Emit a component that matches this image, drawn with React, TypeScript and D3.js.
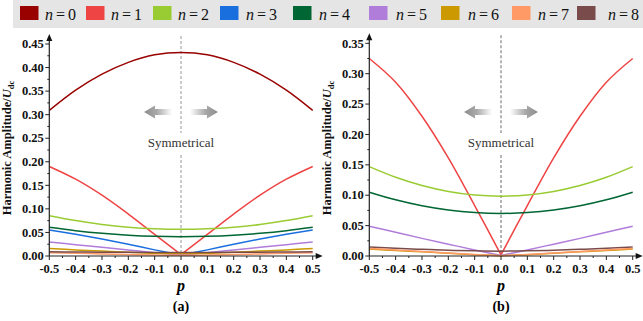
import * as d3 from "d3";

// p values shared by every series
const P = [-0.5, -0.4, -0.3, -0.2, -0.1, 0, 0.1, 0.2, 0.3, 0.4, 0.5];

const COLORS = ["#990000", "#ef4444", "#99cc33", "#1a6fdf", "#006633", "#b07ddb", "#cc9900", "#ff9966", "#7a4b4b"];
const LEGEND_LABELS = ["0", "1", "2", "3", "4", "5", "6", "7", "8"];

// panel (a) harmonic amplitudes, n = 0..8
const A0 = [0.309, 0.352, 0.386, 0.411, 0.427, 0.432, 0.427, 0.411, 0.386, 0.352, 0.309];
const A1 = [0.19, 0.163, 0.129, 0.089, 0.046, 0.003, 0.046, 0.089, 0.129, 0.163, 0.19];
const A2 = [0.0856, 0.0752, 0.067, 0.0612, 0.0578, 0.0566, 0.0578, 0.0612, 0.067, 0.0752, 0.0856];
const A3 = [0.055, 0.046, 0.036, 0.025, 0.013, 0.002, 0.013, 0.025, 0.036, 0.046, 0.055];
const A4 = [0.061, 0.0538, 0.0482, 0.0442, 0.0418, 0.041, 0.0418, 0.0442, 0.0482, 0.0538, 0.061];
const A5 = [0.0297, 0.024, 0.0185, 0.0128, 0.007, 0.002, 0.007, 0.0128, 0.0185, 0.024, 0.0297];
const A6 = [0.016, 0.013, 0.0105, 0.008, 0.006, 0.0055, 0.006, 0.008, 0.0105, 0.013, 0.016];
const A7 = [0.007, 0.0058, 0.0045, 0.0033, 0.002, 0.0015, 0.002, 0.0033, 0.0045, 0.0058, 0.007];
const A8 = [0.009, 0.0085, 0.008, 0.0077, 0.0075, 0.0074, 0.0075, 0.0077, 0.008, 0.0085, 0.009];

// panel (b) harmonic amplitudes (n = 0 and n = 3 are zero / not shown)
const B1 = [0.325, 0.286, 0.23, 0.1615, 0.083, 0.002, 0.083, 0.1615, 0.23, 0.286, 0.325];
const B2 = [0.147, 0.1295, 0.116, 0.1063, 0.1004, 0.0985, 0.1004, 0.1063, 0.116, 0.1295, 0.147];
const B4 = [0.105, 0.0924, 0.0826, 0.0756, 0.0714, 0.07, 0.0714, 0.0756, 0.0826, 0.0924, 0.105];
const B5 = [0.049, 0.039, 0.029, 0.0195, 0.01, 0.001, 0.01, 0.0195, 0.029, 0.039, 0.049];
const B6 = [0.0115, 0.009, 0.0068, 0.0045, 0.0022, 0.0005, 0.0022, 0.0045, 0.0068, 0.009, 0.0115];
const B7 = [0.0125, 0.01, 0.0075, 0.005, 0.0025, 0.0005, 0.0025, 0.005, 0.0075, 0.01, 0.0125];
const B8 = [0.015, 0.0128, 0.011, 0.0095, 0.0085, 0.008, 0.0085, 0.0095, 0.011, 0.0128, 0.015];

const X_TICKS = [-0.5, -0.4, -0.3, -0.2, -0.1, 0, 0.1, 0.2, 0.3, 0.4, 0.5];
const A_Y_TICKS = [0, 0.05, 0.1, 0.15, 0.2, 0.25, 0.3, 0.35, 0.4, 0.45];
const B_Y_TICKS = [0, 0.05, 0.1, 0.15, 0.2, 0.25, 0.3, 0.35];

// sharp = V-shaped minimum at p = 0
const SERIES_A = [
  { n: 0, v: A0, sharp: false },
  { n: 1, v: A1, sharp: true },
  { n: 2, v: A2, sharp: false },
  { n: 3, v: A3, sharp: true },
  { n: 4, v: A4, sharp: false },
  { n: 5, v: A5, sharp: true },
  { n: 6, v: A6, sharp: false },
  { n: 7, v: A7, sharp: true },
  { n: 8, v: A8, sharp: false },
];
const SERIES_B = [
  { n: 1, v: B1, sharp: true },
  { n: 2, v: B2, sharp: false },
  { n: 4, v: B4, sharp: false },
  { n: 5, v: B5, sharp: true },
  { n: 8, v: B8, sharp: false },
  { n: 6, v: B6, sharp: true },
  { n: 7, v: B7, sharp: true },
];

// legend layout (pixel positions of swatches and labels)
const LEG_SWATCH_X = [20, 86, 153, 220, 293, 369, 441, 512, 577];
const LEG_TEXT_X = [45, 111, 178, 246, 319, 396, 468, 538, 608];

const SERIF = "'Liberation Serif', 'DejaVu Serif', 'Times New Roman', Times, serif";

type Series = { n: number; v: number[]; sharp: boolean };

function Panel({
  id,
  x0,
  x1,
  yTop,
  yMax,
  yTicks,
  series,
  tag,
  dashColor,
}: {
  id: string;
  x0: number;
  x1: number;
  yTop: number;
  yMax: number;
  yTicks: number[];
  series: Series[];
  tag: string;
  dashColor: string;
}) {
  const yBottom = 256;
  const x = d3.scaleLinear().domain([-0.5, 0.5]).range([x0, x1]);
  const y = d3.scaleLinear().domain([0, yMax]).range([yBottom, yTop]);
  const line = d3
    .line<[number, number]>()
    .x((d) => x(d[0]))
    .y((d) => y(d[1]))
    .curve(d3.curveCatmullRom.alpha(0.5));

  const pathFor = (s: Series) => {
    const pts = s.v.map((d, i) => [P[i], d] as [number, number]);
    if (!s.sharp) return line(pts) || "";
    // V-shaped curves: two halves meeting at p = 0 keep the corner sharp
    const mid = P.indexOf(0);
    return (line(pts.slice(0, mid + 1)) || "") + (line(pts.slice(mid)) || "");
  };

  const step = yTicks[1] - yTicks[0];
  const yMinor = d3.range(0, yTicks.length - 1).map((i) => yTicks[i] + step / 2);
  const xMinor = d3.range(0, X_TICKS.length - 1).map((i) => X_TICKS[i] + 0.05);
  const cx = x(0);
  const arrowY = 112;

  return (
    <g>
      <defs>
        <linearGradient id={`${id}-gl`} x1="0" x2="1" y1="0" y2="0">
          <stop offset="0" stopColor="#8e8e8e" />
          <stop offset="0.45" stopColor="#a8a8a8" />
          <stop offset="1" stopColor="#ffffff" />
        </linearGradient>
        <linearGradient id={`${id}-gr`} x1="0" x2="1" y1="0" y2="0">
          <stop offset="0" stopColor="#ffffff" />
          <stop offset="0.55" stopColor="#a8a8a8" />
          <stop offset="1" stopColor="#8e8e8e" />
        </linearGradient>
      </defs>

      {/* symmetry guide */}
      <line x1={cx} x2={cx} y1={yTop - 8} y2={133} stroke={dashColor} strokeWidth={1.1} strokeDasharray="3,2" />
      <line x1={cx} x2={cx} y1={155} y2={yBottom} stroke={dashColor} strokeWidth={1.1} strokeDasharray="3,2" />
      <text x={cx} y={147} textAnchor="middle" fontFamily={SERIF} fontSize={13} fill="#333">
        Symmetrical
      </text>
      <path
        d={`M${cx - 37},${arrowY} L${cx - 26},${arrowY - 6.5} L${cx - 26},${arrowY - 3} L${cx - 9},${arrowY - 3} L${cx - 9},${arrowY + 3} L${cx - 26},${arrowY + 3} L${cx - 26},${arrowY + 6.5} Z`}
        fill={`url(#${id}-gl)`}
      />
      <path
        d={`M${cx + 37},${arrowY} L${cx + 26},${arrowY - 6.5} L${cx + 26},${arrowY - 3} L${cx + 9},${arrowY - 3} L${cx + 9},${arrowY + 3} L${cx + 26},${arrowY + 3} L${cx + 26},${arrowY + 6.5} Z`}
        fill={`url(#${id}-gr)`}
      />

      {/* curves */}
      {series.map((s) => (
        <path key={s.n} d={pathFor(s)} fill="none" stroke={COLORS[s.n]} strokeWidth={1.5} strokeLinejoin="round" />
      ))}

      {/* y axis */}
      <line x1={x0} x2={x0} y1={yBottom} y2={yTop - 7} stroke="#222" strokeWidth={1.2} />
      <path d={`M${x0},${yTop - 10} L${x0 - 3},${yTop - 3} L${x0 + 3},${yTop - 3} Z`} fill="#111" />
      {yTicks.map((t) => (
        <g key={t}>
          <line x1={x0 - 4} x2={x0} y1={y(t)} y2={y(t)} stroke="#222" strokeWidth={1} />
          <text
            x={x0 - 5.5}
            y={y(t)}
            dy="0.34em"
            textAnchor="end"
            fontFamily={SERIF}
            fontWeight="bold"
            fontSize={12.5}
            fill="#111"
          >
            {t.toFixed(2)}
          </text>
        </g>
      ))}
      {yMinor.map((t) => (
        <line key={t} x1={x0 - 2} x2={x0} y1={y(t)} y2={y(t)} stroke="#222" strokeWidth={1} />
      ))}

      {/* x axis */}
      <line x1={x0} x2={x1 + 6} y1={yBottom} y2={yBottom} stroke="#222" strokeWidth={1.2} />
      <path d={`M${x1 + 10},${yBottom} L${x1 + 3},${yBottom - 3} L${x1 + 3},${yBottom + 3} Z`} fill="#111" />
      {X_TICKS.map((t) => (
        <g key={t}>
          <line x1={x(t)} x2={x(t)} y1={yBottom} y2={yBottom + 4} stroke="#222" strokeWidth={1} />
          <text
            x={x(t)}
            y={273}
            textAnchor="middle"
            fontFamily={SERIF}
            fontWeight="bold"
            fontSize={12.5}
            fill="#111"
          >
            {t.toFixed(1)}
          </text>
        </g>
      ))}
      {xMinor.map((t) => (
        <line key={t} x1={x(t)} x2={x(t)} y1={yBottom} y2={yBottom + 2} stroke="#222" strokeWidth={1} />
      ))}

      <text x={cx} y={291} textAnchor="middle" fontFamily={SERIF} fontWeight="bold" fontStyle="italic" fontSize={16}>
        p
      </text>
      <text x={cx} y={311} textAnchor="middle" fontFamily={SERIF} fontWeight="bold" fontSize={14}>
        {tag}
      </text>

      {/* y label */}
      <text
        transform={`translate(${x0 - 38},148) rotate(-90)`}
        textAnchor="middle"
        fontFamily={SERIF}
        fontWeight="bold"
        fontSize={12.5}
        fill="#111"
      >
        Harmonic Amplitude/<tspan fontStyle="italic">U</tspan>
        <tspan fontSize={8.5} dy={3}>
          dc
        </tspan>
      </text>
    </g>
  );
}

export default function App() {
  return (
    <div style={{ position: "absolute", left: 0, top: 0, fontFamily: SERIF }}>
      <svg width={643} height={321} style={{ display: "block", background: "#fff", fontFamily: SERIF }}>
        {/* legend */}
        <rect x={13} y={0} width={630} height={28} fill="#e5e5e5" />
        {LEGEND_LABELS.map((lab, i) => (
          <g key={lab}>
            <rect x={LEG_SWATCH_X[i]} y={6} width={18.5} height={14} fill={COLORS[i]} />
            <text x={LEG_TEXT_X[i]} y={19.5} fontFamily={SERIF} fontSize={16} fill="#111">
              <tspan fontStyle="italic">n</tspan>
              <tspan dx={3}>=</tspan>
              <tspan dx={3}>{lab}</tspan>
            </text>
          </g>
        ))}

        <Panel
          id="pa"
          x0={49.3}
          x1={312.7}
          yTop={44}
          yMax={0.45}
          yTicks={A_Y_TICKS}
          series={SERIES_A}
          tag="(a)"
          dashColor="#a0a0a0"
        />
        <Panel
          id="pb"
          x0={369.3}
          x1={632.7}
          yTop={43.3}
          yMax={0.35}
          yTicks={B_Y_TICKS}
          series={SERIES_B}
          tag="(b)"
          dashColor="#777"
        />
      </svg>
    </div>
  );
}
